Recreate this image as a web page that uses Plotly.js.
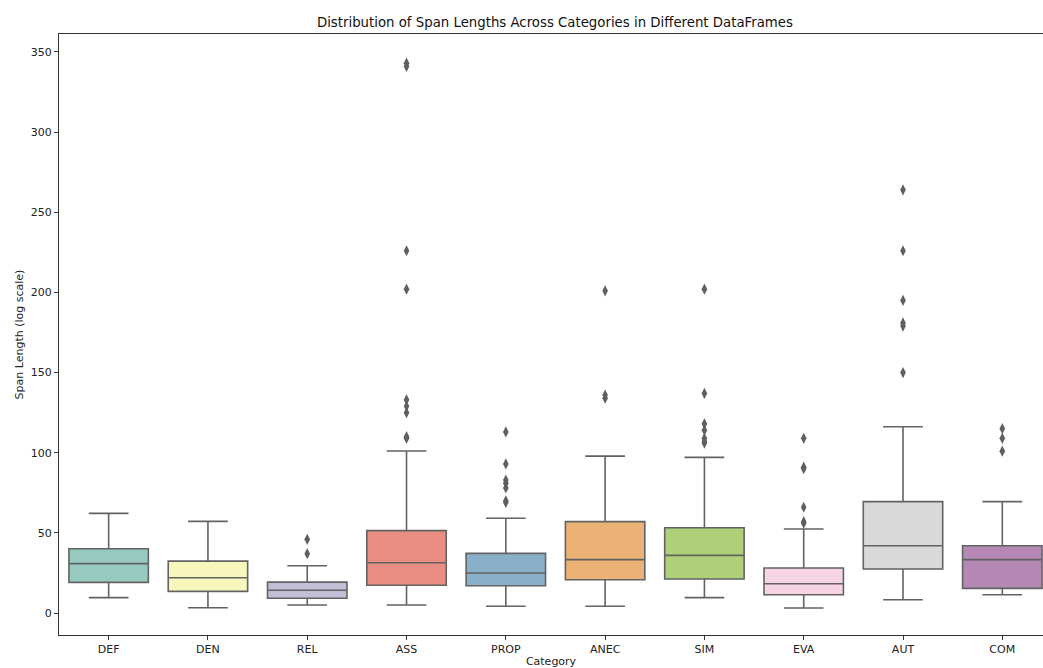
<!DOCTYPE html>
<html>
<head>
<meta charset="utf-8">
<script src="https://cdn.plot.ly/plotly-3.0.1.min.js"></script>
<style>html,body{margin:0;padding:0;overflow:hidden;background:#fff}</style>
</head>
<body>
<div id="chart" style="width:1043px;height:668px"></div>
<script>
const categories = ["DEF","DEN","REL","ASS","PROP","ANEC","SIM","EVA","AUT","COM"];
const lowerWhisker = [9.6, 3.3, 5.0, 5.0, 4.2, 4.2, 9.6, 3.1, 8.3, 11.4];
const q1Values     = [19.1, 13.5, 9.2, 17.3, 17.0, 20.8, 21.2, 11.4, 27.5, 15.4];
const medianValues = [30.8, 22.0, 14.2, 31.4, 25.0, 33.3, 36.0, 18.3, 42.0, 33.3];
const q3Values     = [40.1, 32.4, 19.3, 51.4, 37.2, 57.0, 53.2, 28.1, 69.5, 42.0];
const upperWhisker = [62.2, 57.2, 29.5, 101.1, 59.1, 97.9, 97.1, 52.4, 116.2, 69.5];
const outliers = {
  DEF: [],
  DEN: [],
  REL: [46, 37],
  ASS: [109, 110, 125, 129, 133, 202, 226, 341, 343],
  PROP: [113, 93, 83, 81, 78, 70, 69],
  ANEC: [134, 136, 201],
  SIM: [202, 137, 118, 114, 109, 107, 106],
  EVA: [109, 90, 91, 66, 56, 57],
  AUT: [264, 226, 195, 179, 181, 150],
  COM: [115, 109, 101]
};
const colors = ["#96cac1","#f6f6bd","#c1bed6","#ea8e83","#8aafc9","#eab375","#afcf78","#f6d3e5","#d9d9d9","#b588b5"];

const lineColor = "#636363";
const traces = categories.map((c, i) => ({
  type: "box",
  name: c,
  x: [c],
  q1: [q1Values[i]],
  median: [medianValues[i]],
  q3: [q3Values[i]],
  lowerfence: [lowerWhisker[i]],
  upperfence: [upperWhisker[i]],
  width: 0.8,
  fillcolor: colors[i],
  line: {color: lineColor, width: 1.6},
  whiskerwidth: 0.5,
  boxpoints: false,
  hoverinfo: "skip",
  showlegend: false
}));
const ox = [], oy = [];
categories.forEach(c => outliers[c].forEach(v => { ox.push(c); oy.push(v); }));
traces.push({
  type: "scatter",
  mode: "markers",
  x: ox, y: oy,
  marker: {symbol: "diamond-tall", size: 8, color: "#5f5f5f", line: {width: 0}},
  showlegend: false,
  hoverinfo: "skip"
});

const layout = {
  width: 1043, height: 668,
  margin: {l: 59, r: 0, t: 34, b: 33},
  paper_bgcolor: "#fff", plot_bgcolor: "#fff",
  font: {family: "DejaVu Sans", size: 11, color: "#222"},
  title: {text: "Distribution of Span Lengths Across Categories in Different DataFrames",
          font: {family: "DejaVu Sans", size: 13.3, color: "#111"},
          x: 0.504, xref: "paper", xanchor: "center", y: 1, yref: "container", yanchor: "top", pad: {t: 18}},
  boxmode: "overlay",
  boxgap: 0.2,
  boxgroupgap: 0,
  xaxis: {
    type: "category",
    categoryorder: "array", categoryarray: categories,
    range: [-0.5, 9.41],
    showgrid: false, zeroline: false,
    showline: true, linecolor: "#333", linewidth: 1, mirror: true,
    ticks: "outside", ticklen: 4, tickcolor: "#333", tickwidth: 1,
    tickfont: {family: "DejaVu Sans", size: 11, color: "#222"},
    title: {text: "Category", font: {family: "DejaVu Sans", size: 11, color: "#222"}, standoff: 4}
  },
  yaxis: {
    range: [-13.7, 361.2],
    tickvals: [0, 50, 100, 150, 200, 250, 300, 350],
    showgrid: false, zeroline: false,
    showline: true, linecolor: "#333", linewidth: 1,
    ticks: "outside", ticklen: 4, tickcolor: "#333", tickwidth: 1,
    tickfont: {family: "DejaVu Sans", size: 11, color: "#222"},
    title: {text: "Span Length (log scale)", font: {family: "DejaVu Sans", size: 11, color: "#222"}, standoff: 4}
  }
};
Plotly.newPlot("chart", traces, layout, {staticPlot: true, displayModeBar: false});
</script>
</body>
</html>
